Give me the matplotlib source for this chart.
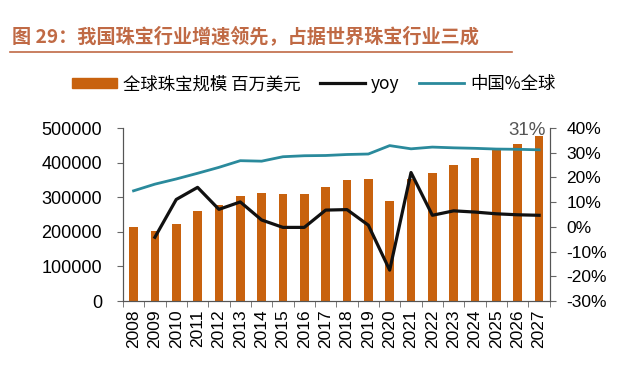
import matplotlib.pyplot as plt
import matplotlib.ticker as mticker
from matplotlib.lines import Line2D
from matplotlib.patches import Patch
import numpy as np

plt.rcParams['font.family'] = ['Liberation Sans', 'Noto Sans CJK SC', 'DejaVu Sans']

years = [str(y) for y in range(2008, 2028)]
market = [213000, 203000, 224000, 261000, 277000, 305000, 311000, 310000, 309000, 329000,
          351000, 352000, 290000, 354000, 369000, 392000, 414000, 441000, 454000, 477000]
yoy = [np.nan, -4.2, 11.1, 16.0, 7.1, 10.1, 2.8, -0.2, -0.2, 6.8,
       7.0, 0.7, -17.5, 22.0, 4.7, 6.5, 6.0, 5.3, 4.9, 4.7]
china_share = [14.6, 17.3, 19.4, 21.7, 24.1, 26.8, 26.6, 28.4, 28.8, 28.9,
               29.3, 29.5, 32.9, 31.6, 32.3, 32.0, 31.8, 31.5, 31.4, 31.2]

bar_color = '#C8620E'
teal = '#2A8A9C'
title_color = '#C06A45'

fig = plt.figure(figsize=(6.4, 3.68), dpi=100)
ax = fig.add_axes([0.192, 0.182, 0.667, 0.470])
ax2 = ax.twinx()

x = np.arange(len(years))
ax.bar(x, market, width=0.4, color=bar_color, zorder=1)
ax2.plot(x, yoy, color='#111111', lw=2.3, zorder=3)
ax2.plot(x, china_share, color=teal, lw=2.0, zorder=3)

ax.set_xlim(-0.5, len(years) - 0.5)
ax.set_ylim(0, 500000)
ax2.set_ylim(-30, 40)
ax.set_yticks(np.arange(0, 500001, 100000))
ax2.set_yticks(np.arange(-30, 41, 10))
ax2.yaxis.set_major_formatter(mticker.FuncFormatter(lambda v, p: f'{v:.0f}%'))

ax.set_xticks(x)
ax.set_xticklabels(years, rotation=90)
ax.set_xticks(np.arange(-0.5, len(years), 1), minor=True)
ax.tick_params(axis='x', which='major', length=0, labelsize=12.5, pad=6)
ax.tick_params(axis='x', which='minor', length=4, color='#666666')
ax.tick_params(axis='y', length=4, color='#666666', labelsize=13, pad=11)
ax2.tick_params(axis='y', length=4, color='#666666', labelsize=12.5, pad=8)

for a in (ax, ax2):
    a.spines['top'].set_visible(False)
    for s in ('left', 'right', 'bottom'):
        a.spines[s].set_color('#555555')
        a.spines[s].set_linewidth(0.8)
ax2.set_zorder(ax.get_zorder() + 1)
ax2.patch.set_visible(False)

ax2.text(18.45, 38.9, '31%', color='#555555', fontsize=13.5, ha='center', va='center')

# legend
handles = [Patch(color=bar_color, label='全球珠宝规模 百万美元'),
           Line2D([], [], color='#111111', lw=2.3, label='yoy'),
           Line2D([], [], color=teal, lw=2.0, label='中国%全球')]
fig.legend(handles=handles, loc='center', bbox_to_anchor=(0.49, 0.772), ncol=3,
           frameon=False, handlelength=2.6, handleheight=0.5,
           columnspacing=1.1, handletextpad=0.35,
           prop={'family': ['Noto Sans CJK SC', 'DejaVu Sans'], 'size': 12.5})

# title
fig.text(0.018, 0.902, '图 29：我国珠宝行业增速领先，占据世界珠宝行业三成', color=title_color,
         fontsize=13.8, fontweight='bold', va='center', ha='left',
         family=['Noto Sans CJK SC', 'DejaVu Sans'])
fig.add_artist(Line2D([0.016, 0.80], [0.858, 0.858], color=title_color, lw=1.2,
                      transform=fig.transFigure))

fig.savefig('out.png', dpi=100)
